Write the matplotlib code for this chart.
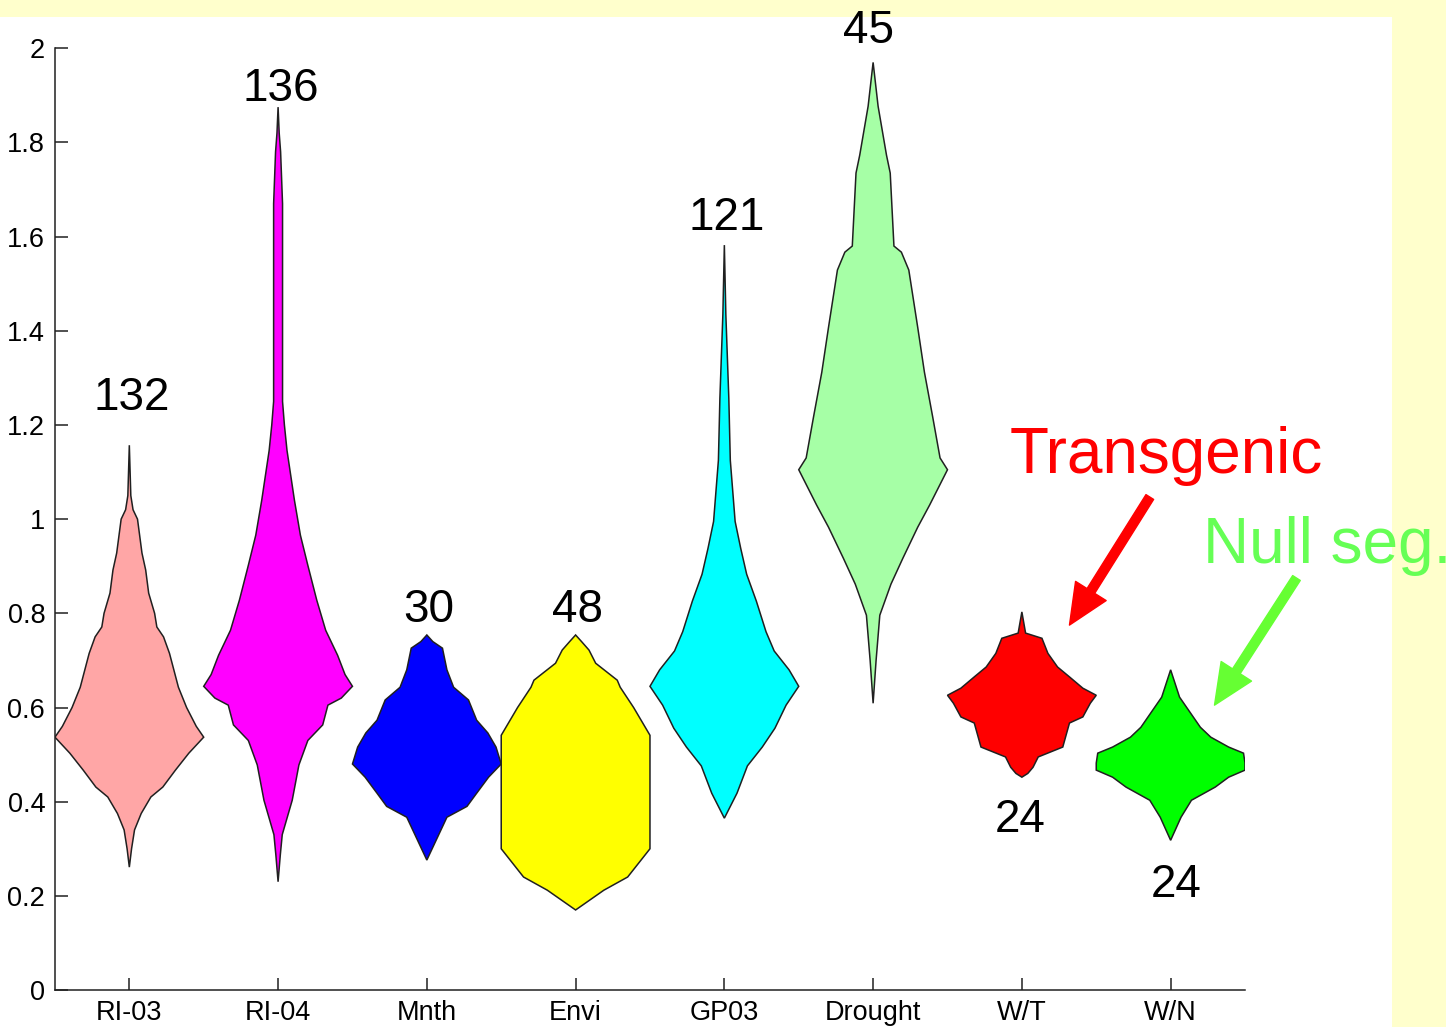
import numpy as np
import matplotlib.pyplot as plt
from matplotlib.patches import Rectangle, FancyArrowPatch

plt.rcParams['font.family'] = ['Liberation Sans', 'DejaVu Sans']

groups = ['RI-03', 'RI-04', 'Mnth', 'Envi', 'GP03', 'Drought', 'W/T', 'W/N']
counts = [132, 136, 30, 48, 121, 45, 24, 24]
colors = ['#ffa6a6', '#ff00ff', '#0000ff', '#ffff00', '#00ffff', '#a6ffa6', '#ff0000', '#00ff00']

# density outline of each group: heights and relative half-widths (1 = widest)
ri03_y = [1.157, 1.05, 1.02, 1.00, 0.928, 0.892, 0.843, 0.80, 0.771, 0.75, 0.715, 0.643, 0.60, 0.56,
          0.537, 0.503, 0.467, 0.431, 0.41, 0.375, 0.34, 0.30, 0.261]
ri03_w = [0, 0.02, 0.05, 0.11, 0.17, 0.22, 0.26, 0.34, 0.37, 0.46, 0.54, 0.66, 0.77, 0.90,
          1.0, 0.80, 0.62, 0.45, 0.29, 0.16, 0.07, 0.03, 0]
ri04_y = [1.875, 1.82, 1.78, 1.67, 1.25, 1.20, 1.146, 1.04, 0.966, 0.902, 0.828, 0.764, 0.711,
          0.67, 0.645, 0.62, 0.605, 0.563, 0.53, 0.478, 0.403, 0.33, 0.287, 0.23]
ri04_w = [0, 0.015, 0.034, 0.06, 0.06, 0.085, 0.12, 0.22, 0.30, 0.40, 0.52, 0.64, 0.8,
          0.9, 1.0, 0.85, 0.67, 0.6, 0.40, 0.28, 0.19, 0.056, 0.03, 0]
mnth_y = [0.754, 0.74, 0.726, 0.68, 0.643, 0.616, 0.573, 0.546, 0.516, 0.48, 0.452, 0.418, 0.39,
          0.367, 0.276]
mnth_w = [0, 0.08, 0.21, 0.27, 0.36, 0.56, 0.67, 0.82, 0.93, 1.0, 0.83, 0.67, 0.54, 0.27, 0]
envi_y = [0.754, 0.74, 0.722, 0.694, 0.658, 0.643, 0.60, 0.541, 0.30, 0.276, 0.24, 0.212, 0.17]
envi_w = [0, 0.08, 0.18, 0.27, 0.56, 0.6, 0.78, 1.0, 1.0, 0.88, 0.7, 0.38, 0]
gp03_y = [1.582, 1.435, 1.257, 1.125, 0.995, 0.938, 0.883, 0.826, 0.761, 0.72, 0.68, 0.645,
          0.605, 0.556, 0.516, 0.476, 0.418, 0.365]
gp03_w = [0, 0.02, 0.06, 0.08, 0.145, 0.22, 0.3, 0.43, 0.56, 0.67, 0.87, 1.0,
          0.83, 0.68, 0.51, 0.31, 0.17, 0]
drought_y = [1.97, 1.877, 1.773, 1.735, 1.58, 1.567, 1.529, 1.407, 1.312, 1.218, 1.13, 1.105,
             1.03, 0.983, 0.917, 0.862, 0.796, 0.70, 0.609]
drought_w = [0, 0.067, 0.18, 0.23, 0.28, 0.38, 0.48, 0.6, 0.69, 0.8, 0.9, 1.0,
             0.76, 0.6, 0.4, 0.24, 0.09, 0.04, 0]
wt_y = [0.803, 0.758, 0.747, 0.715, 0.686, 0.665, 0.641, 0.626, 0.609, 0.58, 0.567, 0.516,
        0.495, 0.473, 0.46, 0.452]
wt_w = [0, 0.05, 0.27, 0.35, 0.48, 0.64, 0.82, 1.0, 0.92, 0.82, 0.64, 0.55, 0.22, 0.15, 0.08, 0]
wn_y = [0.68, 0.622, 0.558, 0.537, 0.516, 0.503, 0.482, 0.467, 0.452, 0.431, 0.403, 0.367, 0.318]
wn_w = [0, 0.12, 0.4, 0.54, 0.78, 0.98, 1.0, 1.0, 0.78, 0.6, 0.28, 0.14, 0]

profiles = [(ri03_y, ri03_w), (ri04_y, ri04_w), (mnth_y, mnth_w), (envi_y, envi_w),
            (gp03_y, gp03_w), (drought_y, drought_w), (wt_y, wt_w), (wn_y, wn_w)]

# where the sample sizes are written
count_y = [1.231, 1.887, 0.781, 0.781, 1.614, 2.011, 0.335, 0.197]
count_dx = [0.013, 0.02, 0.013, 0.013, 0.013, -0.03, -0.013, 0.04]

fig = plt.figure(figsize=(14.46, 10.27), dpi=100, facecolor='#ffffcc')
fig.patches.append(Rectangle((0, 0), 0.9627, 0.9834, transform=fig.transFigure,
                             facecolor='white', edgecolor='none', zorder=-10))
ax = fig.add_axes([0.038, 0.036, 0.823, 0.917])
ax.patch.set_alpha(0)

for i, (yy, ww) in enumerate(profiles):
    pos = i + 1
    yy = np.array(yy)
    ww = np.array(ww) * 0.5
    xs = np.concatenate([pos + ww, (pos - ww)[::-1]])
    ys = np.concatenate([yy, yy[::-1]])
    ax.fill(xs, ys, facecolor=colors[i], edgecolor='#202020', linewidth=1.1, zorder=2)
    ax.text(pos + count_dx[i], count_y[i], str(counts[i]), ha='center', va='baseline',
            fontsize=33, clip_on=False, zorder=3)

ax.set_xlim(0.5, 8.5)
ax.set_ylim(0, 2)
ax.set_xticks(range(1, 9))
ax.set_xticklabels(groups)
ax.set_yticks(np.arange(0, 2.01, 0.2))
ax.set_yticklabels(['0', '0.2', '0.4', '0.6', '0.8', '1', '1.2', '1.4', '1.6', '1.8', '2'])
ax.tick_params(direction='in', length=9, width=1.1, labelsize=19.5, pad=7, colors='#202020',
               labelcolor='black')
for s in ['top', 'right']:
    ax.spines[s].set_visible(False)
for s in ['left', 'bottom']:
    ax.spines[s].set_linewidth(1.1)
    ax.spines[s].set_color('#202020')

ax.text(6.92, 1.098, 'Transgenic', color='#ff0000', fontsize=46, va='baseline', clip_on=False)
ax.text(8.215, 0.907, 'Null seg.', color='#66ff55', fontsize=46, va='baseline', clip_on=False)

red_arrow = FancyArrowPatch((7.86, 1.047), (7.32, 0.775),
                            arrowstyle='simple,head_length=2.9,head_width=2.6,tail_width=0.65',
                            mutation_scale=10, color='#ff0000', shrinkA=0, shrinkB=0,
                            clip_on=False, zorder=4)
green_arrow = FancyArrowPatch((8.846, 0.875), (8.295, 0.605),
                              arrowstyle='simple,head_length=2.9,head_width=2.6,tail_width=0.65',
                              mutation_scale=10, color='#66ff33', shrinkA=0, shrinkB=0,
                              clip_on=False, zorder=4)
ax.add_patch(red_arrow)
ax.add_patch(green_arrow)

fig.savefig('out.png', dpi=100, facecolor=fig.get_facecolor())
